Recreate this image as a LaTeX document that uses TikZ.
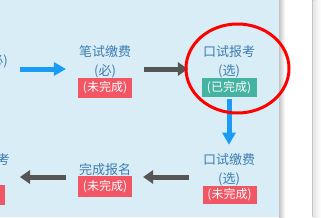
\documentclass[tikz,border=0pt]{standalone}
\usepackage{fontspec}
\setmainfont{Noto Sans CJK SC}
\usetikzlibrary{arrows.meta, positioning}
\definecolor{PanelBlue}{HTML}{D9EDF7}
\definecolor{StepText}{HTML}{3D7DB0}
\definecolor{FlowBlue}{HTML}{1A9BF5}
\definecolor{FlowGray}{HTML}{555555}
\definecolor{TodoRed}{HTML}{F25564}
\definecolor{DoneTeal}{HTML}{44B3A2}
\definecolor{EdgeGray}{HTML}{C4C4C4}
\tikzset{
  steptitle/.style={text=StepText, align=center, inner sep=0pt, font=\fontsize{13}{19}\selectfont},
  statusbox/.style={text=white, minimum width=54pt, minimum height=20pt, inner sep=0pt, font=\fontsize{12}{14}\selectfont},
  todobox/.style={statusbox, fill=TodoRed},
  donebox/.style={statusbox, fill=DoneTeal},
  bluearrow/.style={-{Triangle[length=12pt, width=14pt, line width=0pt]}, line width=5pt, draw=FlowBlue},
  grayarrow/.style={-{Triangle[length=10pt, width=14pt, line width=0pt]}, line width=5pt, draw=FlowGray},
  ringmark/.style={draw=red, line width=3pt}
}
\begin{document}
\begin{tikzpicture}[x=1pt, y=-1pt]
\useasboundingbox (0,0) rectangle (321,217);
% panel and page edge
\fill[PanelBlue] (0,0) rectangle (280,217);
\shade[left color=EdgeGray, right color=white] (279,0) rectangle (285,217);
\fill[EdgeGray] (311.5,0) rectangle (313.5,217);
\shade[left color=EdgeGray!40, right color=white] (313.5,0) rectangle (321,217);
% steps
\node[steptitle, anchor=east] (regprev) at (8,61) {(必)};
\node[steptitle] (written) at (105,62) {笔试缴费\\(必)};
\node[todobox] (writtenS) at (105,88) {(未完成)};
\node[steptitle] (oral) at (229,62) {口试报考\\(选)};
\node[donebox, minimum width=55pt, minimum height=19pt] (oralS) at (229,87.5) {(已完成)};
\node[steptitle] (oralfee) at (229,170) {口试缴费\\(选)};
\node[todobox, minimum height=18pt] (oralfeeS) at (229.5,195) {(未完成)};
\node[steptitle] (finish) at (105,169.5) {完成报名};
\node[todobox, minimum height=21pt] (finishS) at (105,186.5) {(未完成)};
\node[steptitle, anchor=east] (examprev) at (10,159.5) {考};
\node[todobox, anchor=east] (examprevS) at (5,195) {(未完成)};
% flow
\draw[bluearrow, shorten <=12pt, shorten >=13pt] ([yshift=-8pt]regprev.east) -- ([yshift=-7pt]written.west);
\draw[grayarrow, shorten <=13pt, shorten >=15pt] ([yshift=-7pt]written.east) -- ([yshift=-7pt]oral.west);
\draw[bluearrow, shorten <=2pt, shorten >=9pt] (oralS.south) -- (oralfee.north);
\draw[grayarrow, shorten <=13.5pt, shorten >=12pt] ([yshift=-7pt]oralfee.west) -- ([yshift=-7.5pt]finish.east);
\draw[grayarrow, shorten <=13pt, shorten >=10pt] ([yshift=-7.5pt]finish.west) -- ([yshift=-17.5pt]examprev.east);
% highlight
\draw[ringmark] (237.5,68.5) ellipse [x radius=51.5pt, y radius=44.5pt];
\end{tikzpicture}
\end{document}
